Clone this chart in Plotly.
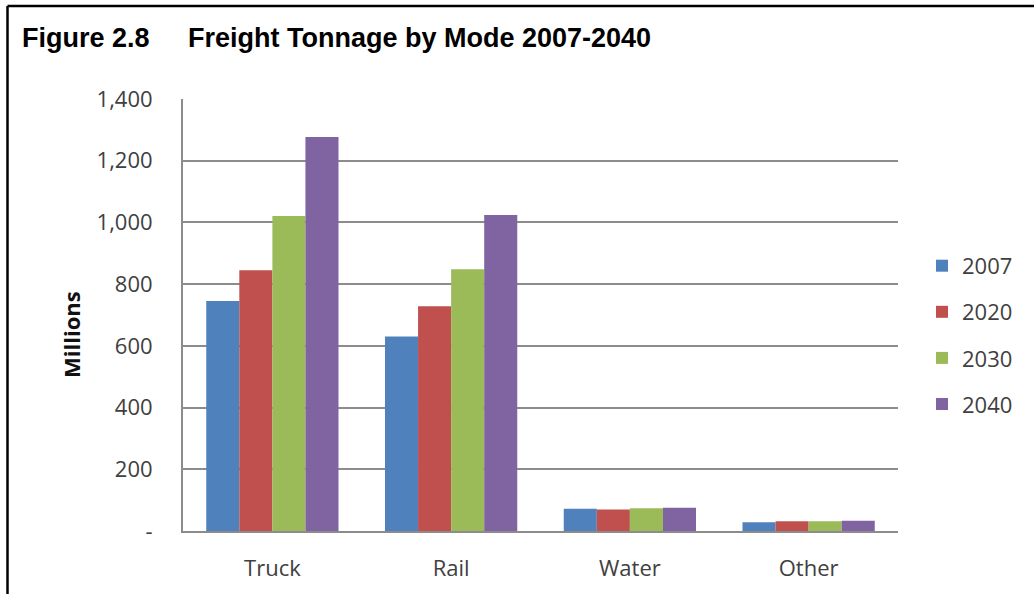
import plotly.graph_objects as go

# Freight tonnage (millions) by transport mode and year
modes = ["Truck", "Rail", "Water", "Other"]
years = ["2007", "2020", "2030", "2040"]
tonnage_2007 = [745, 630, 72, 28]
tonnage_2020 = [845, 728, 70, 32]
tonnage_2030 = [1021, 848, 74, 32]
tonnage_2040 = [1277, 1024, 75, 33]
series = [tonnage_2007, tonnage_2020, tonnage_2030, tonnage_2040]
colors = ["#4F81BD", "#C0504D", "#9BBB59", "#8064A2"]

y_tick_vals = [0, 200, 400, 600, 800, 1000, 1200, 1400]
y_tick_text = ["-", "200", "400", "600", "800", "1,000", "1,200", "1,400"]

W, H = 1034, 594
L, R, T, B = 183, 136, 99, 61
pw, ph = W - L - R, H - T - B


def px_x(x):
    return (x - L) / pw


def px_y(y):
    return (H - B - y) / ph


body_font = "Open Sans, Lato, sans-serif"
title_font = "Liberation Sans, Arial, sans-serif"

fig = go.Figure()
for yr, vals, col in zip(years, series, colors):
    fig.add_trace(go.Bar(
        x=modes, y=vals, name=yr, legendgroup=yr,
        marker=dict(color=col, line=dict(width=0)),
    ))

fig.update_layout(
    width=W, height=H,
    margin=dict(l=L, r=R, t=T, b=B),
    paper_bgcolor="white", plot_bgcolor="white",
    barmode="group", bargap=0.26, bargroupgap=0,
    font=dict(family=body_font, size=22, color="#404040"),
    showlegend=True,
    legend=dict(
        x=px_x(922), xanchor="left", y=px_y(336), yanchor="middle",
        tracegroupgap=14.5, font=dict(size=22, color="#404040"),
        bgcolor="rgba(0,0,0,0)",
    ),
    xaxis=dict(
        showline=True, linecolor="#8c8c8c", linewidth=2,
        showgrid=False, ticks="", ticklabelstandoff=17,
        tickfont=dict(size=22, color="#404040"),
    ),
    yaxis=dict(
        range=[0, 1400], tickvals=y_tick_vals, ticktext=y_tick_text,
        showgrid=True, gridcolor="#8c8c8c", gridwidth=1.5,
        showline=True, linecolor="#8c8c8c", linewidth=2,
        zeroline=False, ticks="", ticklabelstandoff=24,
        tickfont=dict(size=22, color="#404040"),
    ),
    annotations=[
        dict(text="<b>Millions</b>", textangle=-90, x=px_x(71), y=px_y(335),
             xref="paper", yref="paper", xanchor="center", yanchor="middle",
             showarrow=False,
             font=dict(family=body_font, size=22, color="#111111")),
        dict(text="<b>Figure 2.8</b>", x=px_x(20), y=px_y(38),
             xref="paper", yref="paper", xanchor="left", yanchor="middle",
             showarrow=False, font=dict(family=title_font, size=27, color="#000000")),
        dict(text="<b>Freight Tonnage by Mode 2007-2040</b>", x=px_x(186), y=px_y(38),
             xref="paper", yref="paper", xanchor="left", yanchor="middle",
             showarrow=False, font=dict(family=title_font, size=27, color="#000000")),
    ],
    shapes=[
        # frame edges along the left and top of the page
        dict(type="line", xref="paper", yref="paper",
             x0=px_x(7.5), x1=px_x(7.5), y0=px_y(5.5), y1=px_y(600),
             line=dict(color="black", width=2.5)),
        dict(type="line", xref="paper", yref="paper",
             x0=px_x(7.5), x1=px_x(1040), y0=px_y(5.5), y1=px_y(5.5),
             line=dict(color="black", width=2.5)),
    ],
)

fig.write_html("out.html")
